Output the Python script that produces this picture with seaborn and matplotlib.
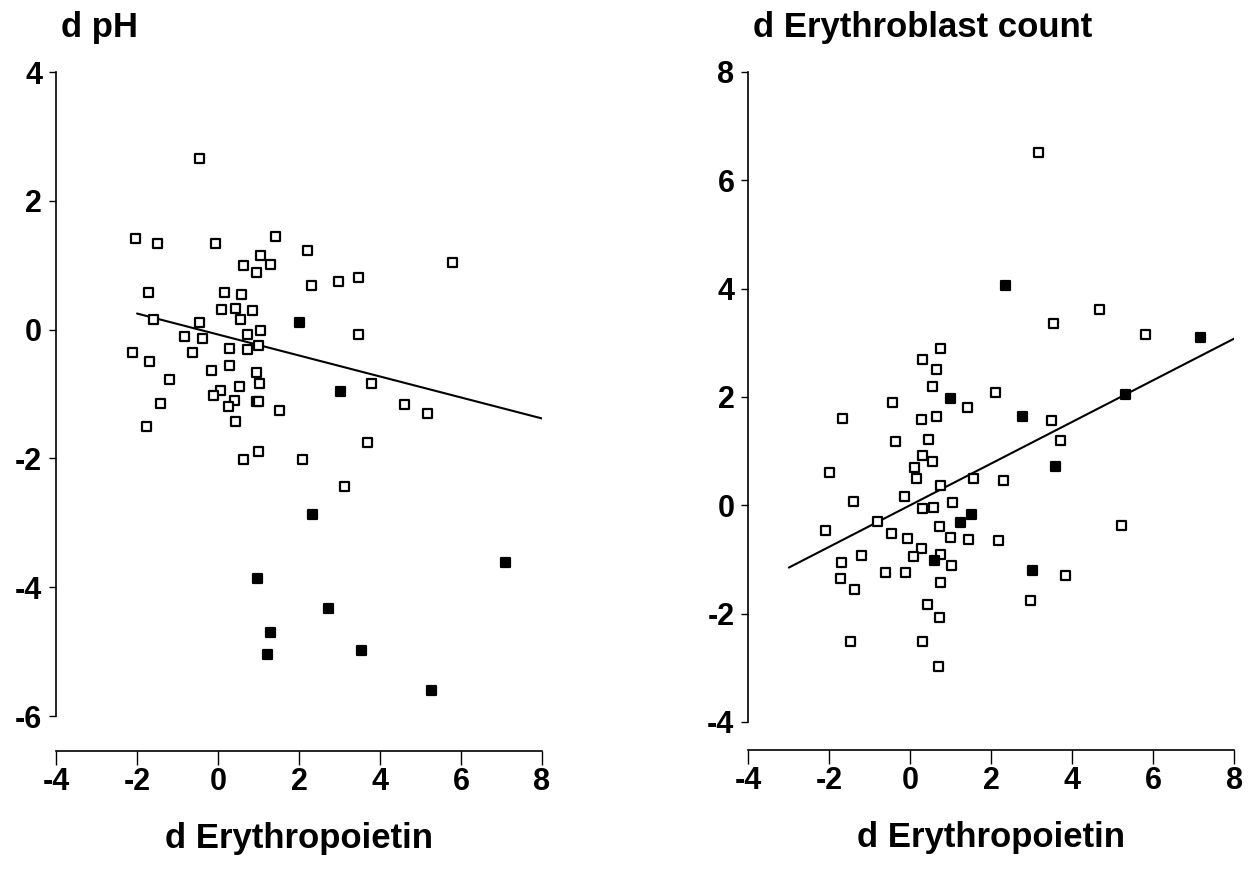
import matplotlib
matplotlib.use("Agg")
import pandas as pd
import matplotlib.pyplot as plt
import seaborn as sns

# Panel d pH: open squares
ph_open_x = [-0.46, -2.03, -1.49, -0.06, 1.41, 2.20, 1.05, 0.62, 1.29, 0.94,
             2.30, 2.97, 3.46, 5.78, -1.71, 0.15, 0.59, 0.08, 0.43, 0.84,
             0.55, -1.60, -0.45, 1.05, -0.82, -0.39, 0.73, 0.99, -2.12, -0.63,
             0.29, 0.72, 3.48, -1.70, -1.21, -0.16, 0.29, 0.94, 1.03, 0.54,
             0.07, -0.11, 0.40, 0.26, 0.96, 1.01, -1.43, 1.51, -1.76, 0.42,
             0.99, 0.62, 2.09, 3.11, 3.80, 4.61, 5.16, 3.68]
ph_open_y = [2.66, 1.41, 1.34, 1.34, 1.44, 1.23, 1.15, 0.99, 1.01, 0.89,
             0.68, 0.74, 0.81, 1.04, 0.57, 0.58, 0.54, 0.32, 0.33, 0.30,
             0.16, 0.16, 0.11, -0.02, -0.10, -0.14, -0.08, -0.24, -0.35, -0.35,
             -0.30, -0.31, -0.07, -0.49, -0.78, -0.64, -0.55, -0.67, -0.84, -0.89,
             -0.94, -1.03, -1.10, -1.19, -1.11, -1.12, -1.14, -1.25, -1.51, -1.42,
             -1.89, -2.01, -2.01, -2.43, -0.84, -1.16, -1.30, -1.75]
# Panel d pH: filled squares
ph_filled_x = [2.00, 3.03, 2.32, 7.10, 0.97, 2.72, 1.30, 1.22, 3.55, 5.26]
ph_filled_y = [0.11, -0.96, -2.87, -3.62, -3.87, -4.33, -4.71, -5.05, -4.98, -5.61]
# regression line end points
ph_fit_x = [-2.0, 8.0]
ph_fit_y = [0.25, -1.38]

# Panel d Erythroblast count: open squares
ebc_open_x = [3.16, 3.53, 4.66, 5.81, 0.75, 0.29, 0.65, 0.54, 2.11, -0.43,
              1.40, -1.67, 0.28, 0.65, -0.37, 0.45, 0.30, 0.55, 0.09, 0.15,
              -2.00, 1.57, 2.30, 0.74, -0.15, -1.40, 1.03, 0.29, 0.58, -0.81,
              -2.09, 0.73, -0.47, -0.08, 1.00, 1.44, 2.17, -1.20, 0.28, 0.07,
              0.75, 1.02, -1.71, -1.72, -0.61, -0.11, -1.39, 0.74, 0.42, 0.71,
              -1.49, 0.30, 0.70, 3.48, 3.71, 5.20, 3.82, 2.96]
ebc_open_y = [6.51, 3.35, 3.62, 3.16, 2.89, 2.70, 2.50, 2.20, 2.08, 1.90,
              1.81, 1.61, 1.59, 1.64, 1.17, 1.21, 0.92, 0.80, 0.70, 0.50,
              0.60, 0.50, 0.45, 0.36, 0.17, 0.07, 0.06, -0.06, -0.05, -0.30,
              -0.47, -0.40, -0.53, -0.61, -0.60, -0.63, -0.65, -0.93, -0.79, -0.95,
              -0.90, -1.12, -1.05, -1.35, -1.24, -1.24, -1.55, -1.42, -1.84, -2.07,
              -2.51, -2.51, -2.98, 1.56, 1.20, -0.38, -1.29, -1.75]
# Panel d Erythroblast count: filled squares
ebc_filled_x = [2.35, 1.00, 2.77, 1.50, 1.24, 0.60, 7.17, 5.32, 3.59, 3.02]
ebc_filled_y = [4.05, 1.98, 1.64, -0.17, -0.32, -1.02, 3.09, 2.04, 0.71, -1.21]
ebc_fit_x = [-3.0, 8.0]
ebc_fit_y = [-1.15, 3.08]

x_ticks = [-4, -2, 0, 2, 4, 6, 8]
ph_ticks = [-6, -4, -2, 0, 2, 4]
ebc_ticks = [-4, -2, 0, 2, 4, 6, 8]


def make_df(ox, oy, fx, fy):
    a = pd.DataFrame({"x": ox, "y": oy, "group": "open"})
    b = pd.DataFrame({"x": fx, "y": fy, "group": "filled"})
    return pd.concat([a, b], ignore_index=True)


ph_df = make_df(ph_open_x, ph_open_y, ph_filled_x, ph_filled_y)
ebc_df = make_df(ebc_open_x, ebc_open_y, ebc_filled_x, ebc_filled_y)

sns.set_style("ticks")
plt.rcParams["font.family"] = ["Liberation Sans", "DejaVu Sans"]
plt.rcParams["axes.unicode_minus"] = False
plt.rcParams["text.color"] = "black"
plt.rcParams["axes.labelcolor"] = "black"

fig = plt.figure(figsize=(12.51, 8.75), dpi=100)
ax1 = fig.add_axes([0.0448, 0.1817, 0.3885, 0.7360])
ax2 = fig.add_axes([0.5982, 0.1749, 0.3886, 0.7429])

palette = {"open": "white", "filled": "black"}


def draw(ax, df, fit_x, fit_y, yticks, title, offset):
    sns.lineplot(x=fit_x, y=fit_y, color="black", linewidth=1.5, ax=ax)
    sns.scatterplot(data=df, x="x", y="y", hue="group", palette=palette,
                    marker="s", s=42, edgecolor="black", linewidth=1.6,
                    legend=False, ax=ax, zorder=3)
    ax.set_xlim(-4, 8)
    ax.set_ylim(yticks[0], yticks[-1])
    ax.set_xticks(x_ticks)
    ax.set_yticks(yticks)
    ax.set_xticklabels([str(t) for t in x_ticks])
    ax.set_yticklabels([str(t) for t in yticks])
    for side in ["top", "right"]:
        ax.spines[side].set_visible(False)
    ax.spines["bottom"].set_position(("outward", offset))
    for side in ["left", "bottom"]:
        ax.spines[side].set_linewidth(1.2)
        ax.spines[side].set_color("black")
    ax.tick_params(axis="x", direction="out", length=10, width=1.0, pad=2,
                   labelsize=22, colors="black")
    ax.tick_params(axis="y", direction="out", length=5, width=1.0, pad=5,
                   labelsize=22, colors="black")
    for lab in ax.get_xticklabels() + ax.get_yticklabels():
        lab.set_fontweight("bold")
    ax.set_xlabel("d Erythropoietin", fontsize=25, fontweight="bold",
                  labelpad=18, color="black")
    ax.set_ylabel("")
    ax.set_title(title, loc="left", fontsize=25, fontweight="bold", pad=25,
                 color="black", x=0.01)


draw(ax1, ph_df, ph_fit_x, ph_fit_y, ph_ticks, "d pH", 25)
draw(ax2, ebc_df, ebc_fit_x, ebc_fit_y, ebc_ticks, "d Erythroblast count", 20)

fig.savefig("out.png", dpi=100, facecolor="white")
